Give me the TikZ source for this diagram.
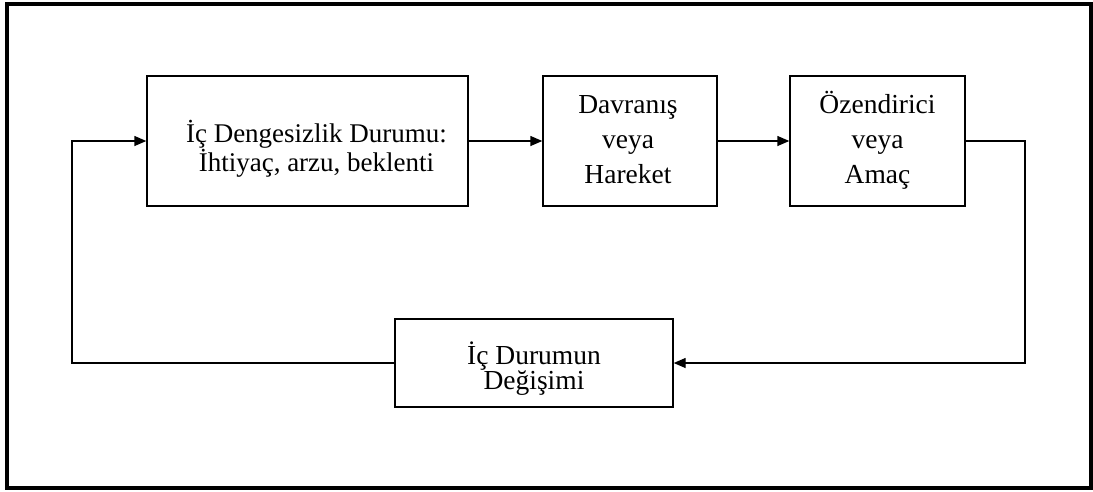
\documentclass[tikz,border=0pt]{standalone}
\usepackage{fontspec}
\setmainfont{Liberation Serif}
\usetikzlibrary{arrows.meta}

\begin{document}
\begin{tikzpicture}[x=1pt, y=-1pt, >={Triangle[length=12pt,width=10pt]},
        box/.style = {draw, line width=1.4pt, inner sep=0pt},
        txt/.style = {align=center, inner sep=0pt},
        link/.style = {line width=1.4pt}]
        \useasboundingbox (0,0) rectangle (1093,491);
        % frame
        \draw[line width=3.5pt] (7,4) rectangle (1091,488);
        % boxes
        \node[box, minimum width=321pt, minimum height=130pt] at (307.5,141) (dengesizlik) {};
        \node[box, minimum width=174pt, minimum height=130pt] at (630,141) (davranis) {};
        \node[box, minimum width=175pt, minimum height=130pt] at (877.5,141) (amac) {};
        \node[box, minimum width=278pt, minimum height=88pt] at (534,363) (degisim) {};
        % texts
        \node[txt, font=\fontsize{27}{27.5}\selectfont] at ([xshift=9pt, yshift=-8pt]dengesizlik) (dengesizlikt) {İç Dengesizlik Durumu:\\İhtiyaç, arzu, beklenti};
        \node[txt, font=\fontsize{27.5}{35}\selectfont] at ([xshift=-2pt, yshift=1pt]davranis) (davranist) {Davranış\\veya\\Hareket};
        \node[txt, font=\fontsize{27.5}{35}\selectfont] at ([yshift=1pt]amac) (amact) {Özendirici\\veya\\Amaç};
        \node[txt, font=\fontsize{27.5}{25}\selectfont] at ([yshift=-6pt]degisim) (degisimt) {İç Durumun\\Değişimi};
        \coordinate (r) at (1025,363);
        \coordinate (l) at (72,363);
        % connectors
        \draw[link, ->] (dengesizlik) -- (davranis);
        \draw[link, ->] (davranis) -- (amac);
        \draw[link, ->] (amac.east) -| (r) -- (degisim.east);
        \draw[link, ->] (degisim.west) -- (l) |- (dengesizlik.west);
\end{tikzpicture}
\end{document}
